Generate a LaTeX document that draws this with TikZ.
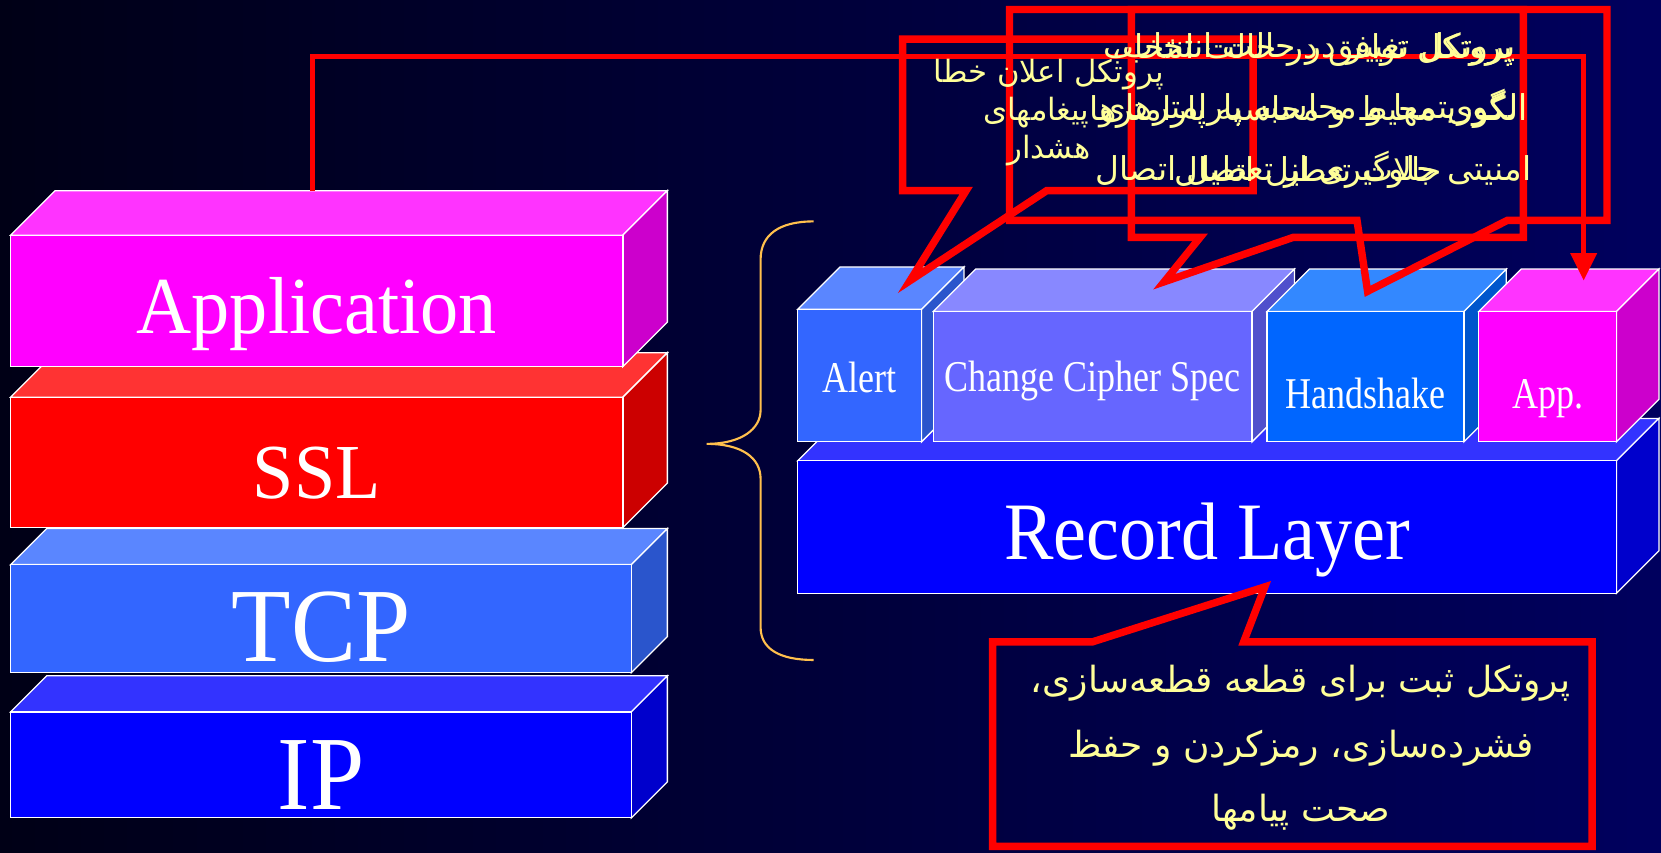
\documentclass[tikz,border=0pt]{standalone}
\usepackage{fontspec}
\setmainfont{Liberation Serif}
\newfontfamily\arabicfont[Script=Arabic]{DejaVu Sans}
\TeXXeTstate=1
\usetikzlibrary{arrows.meta}

\definecolor{bgL}{RGB}{0,0,22}
\definecolor{bgR}{RGB}{0,0,94}
\definecolor{braceY}{HTML}{FFC04D}
\definecolor{noteY}{HTML}{FFFF99}
% front, top and side colour of every layer
\definecolor{magF}{HTML}{FF00FF}\definecolor{magT}{HTML}{FF33FF}\definecolor{magS}{HTML}{CC00CC}
\definecolor{redF}{HTML}{FF0000}\definecolor{redT}{HTML}{FF3333}\definecolor{redS}{HTML}{CC0000}
\definecolor{skyF}{HTML}{3366FF}\definecolor{skyT}{HTML}{5A86FF}\definecolor{skyS}{HTML}{2A55CC}
\definecolor{bluF}{HTML}{0000FF}\definecolor{bluT}{HTML}{3333FF}\definecolor{bluS}{HTML}{0000CC}
\definecolor{lavF}{HTML}{6666FF}\definecolor{lavT}{HTML}{8888FF}\definecolor{lavS}{HTML}{5050CC}
\definecolor{azuF}{HTML}{0066FF}\definecolor{azuT}{HTML}{3388FF}\definecolor{azuS}{HTML}{0055CC}

% #1 name, #2 left, #3 top, #4 width, #5 height, #6 depth, #7 colour, #8 style, #9 text
\newcommand{\layerbox}[9]{%
  \filldraw[facet, fill=#7T] (#2,#3) -- ++(#6,-#6) -- ++(#4,0) -- ++(-#6,#6) -- cycle;
  \filldraw[facet, fill=#7S] (#2+#4,#3) -- ++(#6,-#6) -- ++(0,#5) -- ++(-#6,#6) -- cycle;
  \node[front, fill=#7F, minimum width=#4, minimum height=#5, #8] (#1) at (#2+#4/2,#3+#5/2) {#9};
}
% lowered and stretched label: #1 drop, #2 vertical stretch, #3 text
\newcommand{\tallword}[3]{\raisebox{-#1}[\height][\depth]{\scalebox{1}[#2]{#3}}}

\begin{document}
\begin{tikzpicture}[x=1pt, y=-1pt, line join=miter,
        every node/.append style={inner sep=0pt},
        facet/.style={draw=white, line width=1.2pt},
        front/.style={draw=white, line width=1.2pt, text=white},
        callout/.style={draw=red, line width=7pt},
        feed/.style={draw=red, line width=5pt, -{Triangle[length=26pt, width=24pt]}}]
      \tikzstyle{bigword} = [font=\fontsize{92}{100}\selectfont]
      \tikzstyle{midword} = [font=\fontsize{70}{80}\selectfont]
      \tikzstyle{smallword} = [font=\fontsize{34}{40}\selectfont]
      \tikzstyle{note} = [text=noteY, align=center]
      \shade[left color=bgL, right color=bgR] (0,0) rectangle (1568,804.3);
      \useasboundingbox (0,0) rectangle (1568,804.3);

      % protocol stack
      \layerbox{ip}{10}{672}{586}{100}{34}{blu}{bigword}{\tallword{10pt}{1.08}{IP}}
      \layerbox{tcp}{10}{533}{586}{102}{34}{sky}{bigword}{\tallword{8pt}{1.08}{TCP}}
      \layerbox{ssl}{10}{375}{578}{123}{42}{red}{midword}{\tallword{10pt}{1.05}{SSL}}
      \layerbox{application}{10}{222}{578}{124}{42}{mag}{font=\fontsize{72}{80}\selectfont}{\tallword{12pt}{1.06}{Application}}

      \draw[braceY, line width=2pt] (768,209) .. controls (735,209) and (718,222) .. (718,245)
        -- (718,387) .. controls (718,405) and (700,419) .. (667,419)
        .. controls (700,419) and (718,432) .. (718,452)
        -- (718,592) .. controls (718,612) and (735,623) .. (768,623);

      % SSL in detail
      \layerbox{record}{753}{435}{773}{125}{40}{blu}{midword}{\tallword{12pt}{1.1}{Record Layer}}
      \layerbox{alert}{753}{292}{117}{125}{40}{sky}{smallword}{\tallword{2pt}{1.22}{Alert}}
      \layerbox{ccs}{881}{294}{301}{123}{40}{lav}{smallword}{\tallword{4pt}{1.22}{Change Cipher Spec}}
      \layerbox{handshake}{1196}{294}{186}{123}{40}{azu}{smallword}{\tallword{16pt}{1.22}{Handshake}}
      \layerbox{app}{1396}{294}{130}{123}{40}{mag}{smallword}{\tallword{21pt}{1.22}{App.}}

      \coordinate (up-start) at (295,180);
      \coordinate (up-end) at (1495,265);
      \draw[feed] (up-start) -- ++(0,-127) -| (up-end);

      % callouts
      \draw[callout] (852,37) -- (1183,37) -- (1183,180) -- (988,180) -- (859,265) -- (912,180) -- (852,180) -- cycle;
      \draw[callout] (1068,9) -- (1438,9) -- (1438,224) -- (1221,224) -- (1099,266) -- (1133,224) -- (1068,224) -- cycle;
      \draw[callout] (953,9) -- (1517,9) -- (1517,208) -- (1423,208) -- (1291,275) -- (1281,208) -- (953,208) -- cycle;
      \draw[callout] (937,606) -- (1031,606) -- (1194,554) -- (1174,606) -- (1503,606) -- (1503,799) -- (937,799) -- cycle;

      \node[note, font=\arabicfont\fontsize{29}{36}\selectfont] (alert-note) at (990,106)
        {\beginR پروتکل اعلان خطا\endR\\ \beginR و پیغامهای\endR\\ \beginR هشدار\endR};
      \node[note, font=\arabicfont\fontsize{31}{58}\selectfont] (ccs-note) at (1240,104)
        {\beginR پروتکل تغییر در حالت انتخاب،\endR\\ \beginR الگوریتمها و محاسبه پارامترهای\endR\\ \beginR امنیتی جلوگیری از تعطیل اتصال\endR};
      \node[note, font=\arabicfont\fontsize{31}{58}\selectfont] (handshake-note) at (1235,104)
        {\beginR پروتکل توافق در حالت انتخاب\endR\\ \beginR الگوی محیط و محاسبه پارامترها\endR\\ \beginR حالات تعطیل اتصال\endR};
      \node[note, font=\arabicfont\fontsize{34}{61}\selectfont] (record-note) at (1228,706)
        {\beginR پروتکل ثبت برای قطعه قطعه‌سازی،\endR\\ \beginR فشرده‌سازی، رمزکردن و حفظ\endR\\ \beginR صحت پیامها\endR};
    \end{tikzpicture}
\end{document}
